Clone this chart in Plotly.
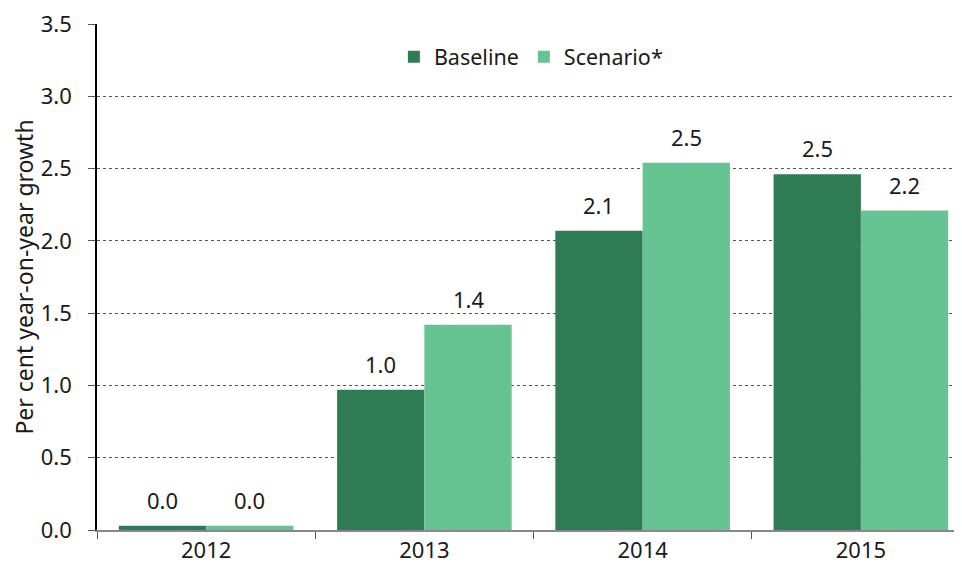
import plotly.graph_objects as go

years = ["2012", "2013", "2014", "2015"]
baseline = [0.03, 0.97, 2.07, 2.46]
scenario = [0.03, 1.42, 2.54, 2.21]
y_ticks = [0.0, 0.5, 1.0, 1.5, 2.0, 2.5, 3.0, 3.5]

dark = "#2f7b53"
light = "#66c492"
font_family = "Noto Sans, Open Sans, sans-serif"

fig = go.Figure()
fig.add_trace(go.Bar(x=years, y=baseline, name="Baseline", marker=dict(color=dark, line=dict(width=0))))
fig.add_trace(go.Bar(x=years, y=scenario, name="Scenario*", marker=dict(color=light, line=dict(width=0))))

for i, (b, s) in enumerate(zip(baseline, scenario)):
    for off, v in ((-0.2, b), (0.2, s)):
        fig.add_annotation(x=i + off, y=v, text=f"{v:.1f}", showarrow=False,
                           yanchor="bottom", yshift=9,
                           font=dict(size=22, color="#1a1a1a", family=font_family))

fig.update_layout(
    width=962, height=569,
    margin=dict(l=89, r=0, t=14, b=47),
    plot_bgcolor="white", paper_bgcolor="white",
    barmode="group", bargap=0.2, bargroupgap=0,
    font=dict(family=font_family, size=22, color="#1a1a1a"),
    legend=dict(orientation="h", x=0.497, xanchor="center", y=0.935, yanchor="middle",
                font=dict(size=21.5), itemwidth=30, bgcolor="rgba(0,0,0,0)"),
    showlegend=True,
)
fig.update_yaxes(range=[0, 3.5], tickvals=y_ticks, tickformat=".1f",
                 showgrid=True, gridcolor="#555555", griddash="dot", gridwidth=1,
                 showline=True, linecolor="#000000", linewidth=1.5,
                 ticks="outside", ticklen=7, tickcolor="#555555",
                 ticklabelstandoff=12, ticklabeloverflow="allow", zeroline=False,
                 tickfont=dict(size=22),
                 title=dict(text="Per cent year-on-year growth", font=dict(size=23), standoff=15))
fig.update_xaxes(range=[-0.5, 3.5], showline=True, linecolor="#888888", linewidth=1.5,
                 ticks="outside", tickson="boundaries", ticklen=7, tickcolor="#555555",
                 showgrid=False, tickfont=dict(size=22))

fig.write_html("out.html")
